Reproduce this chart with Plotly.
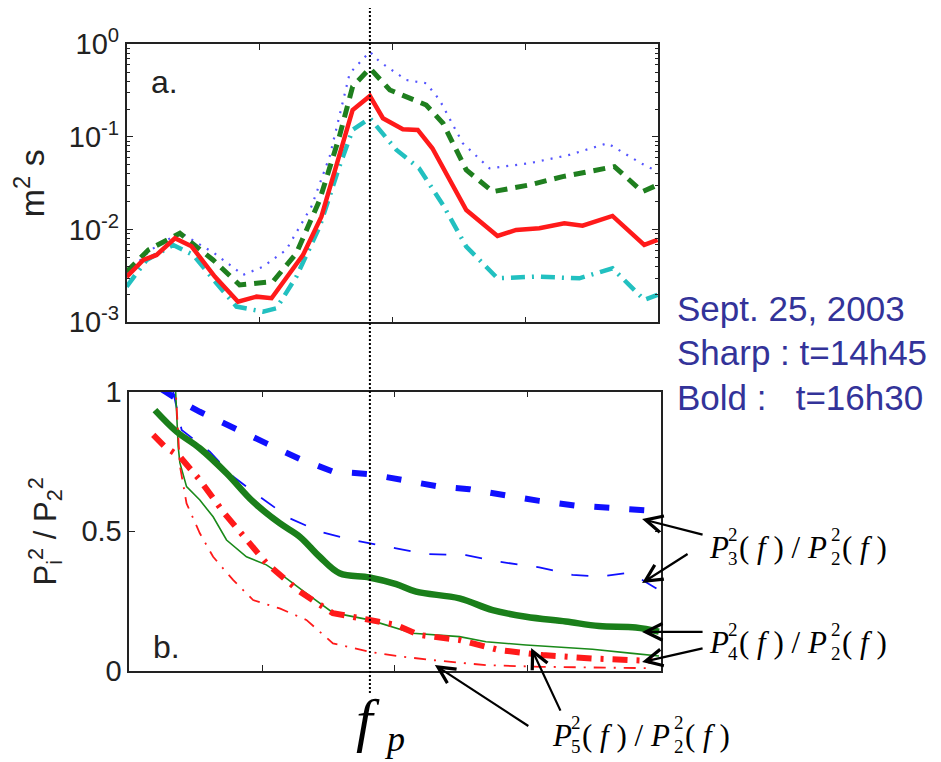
import plotly.graph_objects as go

# ---------------- Panel a: spectra (log scale) ----------------
red_x = [0, 0.125, 0.225, 0.363, 0.488, 0.663, 0.838, 0.977, 1.09, 1.20, 1.327, 1.465, 1.578, 1.70, 1.83,
         1.928, 2.078, 2.19, 2.30, 2.555, 2.79, 2.93, 3.105, 3.293, 3.43, 3.655, 3.894, 3.994]
red_y = [-2.51, -2.327, -2.273, -2.093, -2.18, -2.507, -2.777, -2.723, -2.74, -2.525, -2.273, -1.86, -1.32,
         -0.709, -0.558, -0.798, -0.917, -0.924, -1.122, -1.788, -2.068, -2.003, -1.985, -1.931, -1.957,
         -1.852, -2.165, -2.111]

green_x = [0, 0.163, 0.40, 0.65, 0.85, 1.10, 1.277, 1.452, 1.60, 1.70, 1.83, 1.98, 2.254, 2.38, 2.555,
           2.755, 3.03, 3.28, 3.67, 3.88, 3.994]
green_y = [-2.453, -2.219, -2.039, -2.327, -2.597, -2.561, -2.255, -1.68, -0.997, -0.457, -0.259, -0.493,
           -0.655, -0.852, -1.356, -1.59, -1.518, -1.428, -1.32, -1.59, -1.518]

blue_x = [0, 0.18, 0.40, 0.66, 0.876, 1.026, 1.20, 1.39, 1.527, 1.678, 1.83, 1.903, 2.104, 2.254, 2.354,
          2.529, 2.73, 3.03, 3.33, 3.618, 3.87, 3.994]
blue_y = [-2.47, -2.22, -2.03, -2.255, -2.489, -2.399, -2.219, -1.752, -1.212, -0.313, -0.08, -0.188,
          -0.385, -0.421, -0.60, -1.068, -1.338, -1.284, -1.194, -1.068, -1.284, -1.374]

cyan_x = [0, 0.15, 0.35, 0.5, 0.676, 0.826, 1.026, 1.127, 1.277, 1.452, 1.60, 1.70, 1.83, 2.03, 2.20,
          2.38, 2.555, 2.79, 3.08, 3.406, 3.655, 3.894, 3.994]
cyan_y = [-2.615, -2.327, -2.165, -2.273, -2.578, -2.83, -2.885, -2.848, -2.507, -1.968, -1.32, -0.924,
          -0.798, -1.14, -1.338, -1.733, -2.183, -2.525, -2.507, -2.525, -2.417, -2.758, -2.704]

# ---------------- Panel b: ratios ----------------
p3b_x = [0.24, 0.368, 0.531, 0.781, 1.032, 1.283, 1.533, 1.808, 2.034, 2.31, 2.56, 2.81, 3.086, 3.36, 3.61, 3.937]
p3b_y = [1.01, 0.970, 0.928, 0.869, 0.815, 0.759, 0.714, 0.705, 0.684, 0.662, 0.651, 0.630, 0.609, 0.592, 0.582, 0.574]

p3s_x = [0.33, 0.394, 0.606, 0.781, 0.982, 1.207, 1.433, 1.683, 2.009, 2.234, 2.535, 2.785, 3.086, 3.336,
         3.536, 3.737, 3.862, 3.987]
p3s_y = [1.0, 0.863, 0.785, 0.696, 0.624, 0.547, 0.499, 0.469, 0.439, 0.419, 0.415, 0.391, 0.371, 0.344,
         0.338, 0.350, 0.326, 0.290]

p4b_x = [0.193, 0.356, 0.531, 0.732, 0.932, 1.132, 1.283, 1.433, 1.583, 1.808, 2.009, 2.159, 2.485, 2.735,
         2.986, 3.286, 3.536, 3.812, 3.987]
p4b_y = [0.934, 0.857, 0.797, 0.708, 0.606, 0.529, 0.481, 0.409, 0.350, 0.335, 0.311, 0.284, 0.260, 0.218,
         0.194, 0.177, 0.161, 0.156, 0.141]

p4s_x = [0.344, 0.368, 0.381, 0.431, 0.531, 0.631, 0.732, 0.882, 1.032, 1.183, 1.333, 1.533, 1.808, 2.009,
         2.134, 2.485, 2.685, 2.986, 3.236, 3.486, 3.787, 3.987]
p4s_y = [1.05, 0.803, 0.745, 0.66, 0.612, 0.552, 0.469, 0.409, 0.380, 0.332, 0.278, 0.209, 0.183, 0.153,
         0.135, 0.123, 0.105, 0.093, 0.085, 0.078, 0.063, 0.054]

p5b_x = [0.18, 0.268, 0.381, 0.531, 0.706, 0.857, 1.032, 1.283, 1.533, 1.808, 2.009, 2.184, 2.485, 2.785,
         3.11, 3.486, 3.937]
p5b_y = [0.845, 0.803, 0.767, 0.684, 0.570, 0.481, 0.386, 0.284, 0.207, 0.183, 0.165, 0.129, 0.111, 0.075,
         0.057, 0.045, 0.036]

p5s_x = [0.344, 0.37, 0.381, 0.431, 0.531, 0.631, 0.781, 0.932, 1.132, 1.333, 1.533, 1.808, 2.009, 2.284,
         2.685, 3.11, 3.486, 3.937]
p5s_y = [1.05, 0.80, 0.735, 0.60, 0.493, 0.409, 0.326, 0.254, 0.224, 0.183, 0.099, 0.069, 0.054, 0.039,
         0.021, 0.015, 0.013, 0.010]

f_peak = 1.83
ytick_a = [-3, -2, -1, 0]
ytick_a_text = ["10<sup>-3</sup>", "10<sup>-2</sup>", "10<sup>-1</sup>", "10<sup>0</sup>"]
ytick_b = [0, 0.5, 1]
ytick_b_text = ["0", "0.5", "1"]
xticks = [1, 2, 3]

W, H = 941, 762

fig = go.Figure()

def pw(v):
    return [10 ** a for a in v]

fig.add_trace(go.Scatter(x=blue_x, y=pw(blue_y), mode="lines", xaxis="x", yaxis="y",
                         line=dict(color="#5555ff", width=2.2, dash="2px,7px")))
fig.add_trace(go.Scatter(x=green_x, y=pw(green_y), mode="lines", xaxis="x", yaxis="y",
                         line=dict(color="#1f7f1f", width=5, dash="12px,8px")))
fig.add_trace(go.Scatter(x=cyan_x, y=pw(cyan_y), mode="lines", xaxis="x", yaxis="y",
                         line=dict(color="#22c0c0", width=4.5, dash="14px,7px,2px,7px")))
fig.add_trace(go.Scatter(x=red_x, y=pw(red_y), mode="lines", xaxis="x", yaxis="y",
                         line=dict(color="#ff1a1a", width=4.5)))

fig.add_trace(go.Scatter(x=p3b_x, y=p3b_y, mode="lines", xaxis="x2", yaxis="y2",
                         line=dict(color="#1010ff", width=6, dash="15px,20px")))
fig.add_trace(go.Scatter(x=p3s_x, y=p3s_y, mode="lines", xaxis="x2", yaxis="y2",
                         line=dict(color="#1010ff", width=1.8, dash="17px,19px")))
fig.add_trace(go.Scatter(x=p4b_x, y=p4b_y, mode="lines", xaxis="x2", yaxis="y2",
                         line=dict(color="#1a7f1a", width=6.5, shape="spline")))
fig.add_trace(go.Scatter(x=p4s_x, y=p4s_y, mode="lines", xaxis="x2", yaxis="y2",
                         line=dict(color="#1a8a1a", width=1.6)))
fig.add_trace(go.Scatter(x=p5b_x, y=p5b_y, mode="lines", xaxis="x2", yaxis="y2",
                         line=dict(color="#ff1a1a", width=6, dash="15px,9px,3px,9px")))
fig.add_trace(go.Scatter(x=p5s_x, y=p5s_y, mode="lines", xaxis="x2", yaxis="y2",
                         line=dict(color="#ff1a1a", width=1.8, dash="12px,8px,2px,8px")))

axis_common = dict(showline=True, linecolor="#222222", linewidth=1.5, mirror="ticks", ticks="inside",
                   tickcolor="#222222", showgrid=False, zeroline=False, automargin=False)

fig.update_layout(
    width=W, height=H, margin=dict(l=0, r=0, t=0, b=0, autoexpand=False),
    paper_bgcolor="white", plot_bgcolor="white", showlegend=False,
    font=dict(family="Liberation Sans, Arial, sans-serif", color="#222222"),
    xaxis=dict(domain=[0.1346, 0.6996], range=[0, 4], tickvals=xticks, showticklabels=False,
               ticklen=6, anchor="y", **axis_common),
    yaxis=dict(domain=[0.577, 0.9419], type="log", range=[-3, 0], tickvals=pw(ytick_a),
               ticktext=ytick_a_text, ticklen=7, tickfont=dict(size=29), anchor="x",
               minor=dict(ticks="inside", ticklen=3.5, tickcolor="#222222",
                          tickvals=[m * 10 ** k for k in (-3, -2, -1) for m in range(2, 10)]),
               title=dict(text="m<sup>2</sup> s", font=dict(size=34), standoff=14),
               **axis_common),
    xaxis2=dict(domain=[0.1374, 0.7021], range=[0, 4], tickvals=xticks, showticklabels=False,
                ticklen=6, anchor="y2", **axis_common),
    yaxis2=dict(domain=[0.1194, 0.486], range=[0, 1], tickvals=ytick_b, ticktext=ytick_b_text,
                ticklen=6, tickfont=dict(size=29), anchor="x2",
                title=dict(text="P<sub>i</sub><sup>2</sup> / P<sub>2</sub><sup>2</sup>", font=dict(size=31),
                           standoff=16),
                **axis_common),
)

# peak frequency dotted line
fig.add_shape(type="line", xref="x", yref="paper", x0=f_peak, x1=f_peak, y0=1 - 693 / H, y1=1 - 8 / H,
              line=dict(color="black", width=2, dash="2px,2px"))

ann = []

def txt(text, px, py, size, family=None, color="black", xanchor="center"):
    f = dict(size=size, color=color)
    if family:
        f["family"] = family
    ann.append(dict(text=text, xref="paper", yref="paper", x=px / W, y=1 - py / H, xanchor=xanchor,
                    yanchor="middle", showarrow=False, font=f))

txt("a.", 164, 82, 32, color="#222222")
txt("b.", 166, 647, 32, color="#222222")

info_lines = ["Sept. 25, 2003", "Sharp : t=14h45", "Bold :\u00a0\u00a0\u00a0t=16h30"]
info_py = [308, 352, 397]
for t, yy in zip(info_lines, info_py):
    txt(t, 675, yy, 35, color="#333399", xanchor="left")

serif = "Liberation Serif, Times New Roman, serif"

def ratio_label(i, x0, yc):
    txt("<i>P</i>", x0, yc, 31, serif, xanchor="left")
    txt("2", x0 + 19, yc - 13, 19, serif, xanchor="left")
    txt(str(i), x0 + 19, yc + 11, 19, serif, xanchor="left")
    txt("( <i>f</i> ) / <i>P</i>", x0 + 30, yc, 31, serif, xanchor="left")
    txt("2", x0 + 122, yc - 13, 19, serif, xanchor="left")
    txt("2", x0 + 122, yc + 11, 19, serif, xanchor="left")
    txt("( <i>f</i> )", x0 + 133, yc, 31, serif, xanchor="left")

ratio_label(3, 707, 547)
ratio_label(4, 707, 642)
ratio_label(5, 550, 735)

txt("<i>f</i>", 368, 720, 60, serif)
txt("<i>p</i>", 394, 739, 36, serif)

arrows = [(3.86, 0.544, 62, 16), (3.86, 0.315, 47, -30), (3.86, 0.140, 62, 0), (3.86, 0.032, 62, -14),
          (2.30, 0.0215, 95, 62), (3.025, 0.082, 30, 64)]
for x, y, ax, ay in arrows:
    ann.append(dict(text="", xref="x2", yref="y2", x=x, y=y, ax=ax, ay=ay, showarrow=True,
                    arrowhead=5, arrowsize=1.5, arrowwidth=2.2, arrowcolor="black"))

fig.update_layout(annotations=ann)
fig.write_html("out.html")
